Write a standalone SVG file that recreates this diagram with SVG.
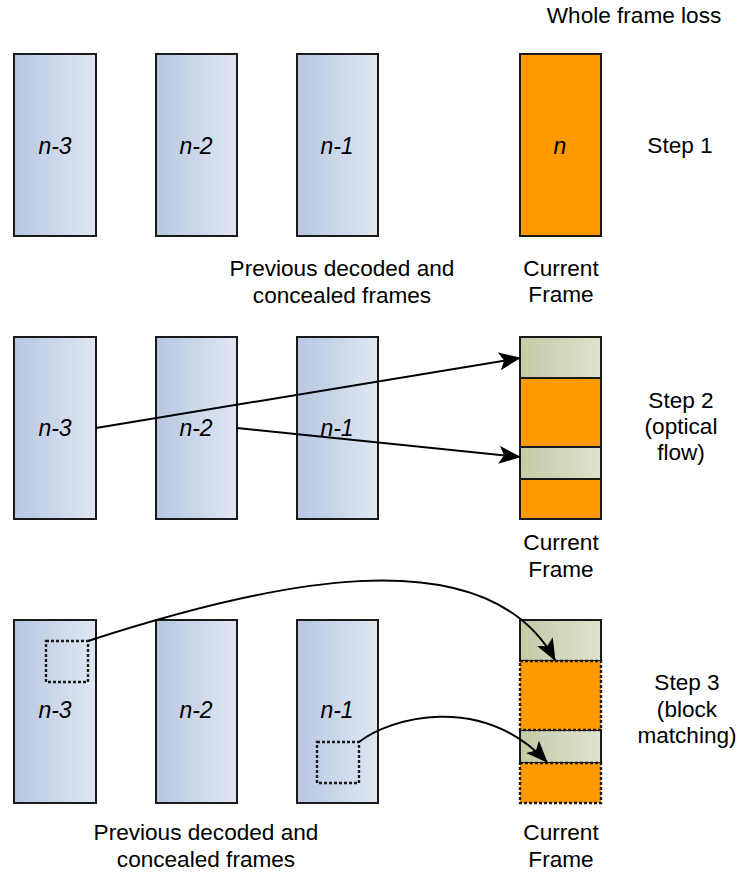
<svg xmlns="http://www.w3.org/2000/svg" width="740" height="875" viewBox="0 0 740 875">
<defs>
<linearGradient id="blue" x1="0" y1="0" x2="1" y2="0">
<stop offset="0" stop-color="#b7c7e1"/>
<stop offset="1" stop-color="#dfe7f2"/>
</linearGradient>
<linearGradient id="green" x1="0" y1="0" x2="1" y2="0">
<stop offset="0" stop-color="#c3caa8"/>
<stop offset="1" stop-color="#dee3cd"/>
</linearGradient>
<marker id="arr" markerUnits="userSpaceOnUse" markerWidth="22" markerHeight="18" refX="21" refY="9" orient="auto" viewBox="0 0 22 18">
<path d="M0,0 L22,9 L0,18 L5,9 Z" fill="#000"/>
</marker>
<style>
.fr{fill:url(#blue);stroke:#1a1a1a;stroke-width:2}
.or{fill:#ff9900;stroke:#1a1a1a;stroke-width:2}
.gr{fill:url(#green);stroke:#1a1a1a;stroke-width:2}
.ord{fill:#ff9900;stroke:#1a1a1a;stroke-width:2.4;stroke-dasharray:3 2}
.blk{fill:none;stroke:#1a1a1a;stroke-width:2.4;stroke-dasharray:3 2}
.t{font-family:"Liberation Sans",Arial,sans-serif;font-size:22.6px;fill:#000;text-anchor:middle}
.n{font-family:"Liberation Sans",Arial,sans-serif;font-size:23px;font-style:italic;fill:#000;text-anchor:middle}
.c{fill:none;stroke:#000;stroke-width:2;marker-end:url(#arr)}
</style>
</defs>
<text class="t" x="634" y="23">Whole frame loss</text>

<!-- Row 1 -->
<g id="r1-n3"><rect class="fr" x="14" y="54" width="82" height="182"/><text class="n" x="55" y="154">n-3</text></g>
<g id="r1-n2"><rect class="fr" x="156" y="54" width="81" height="182"/><text class="n" x="196" y="154">n-2</text></g>
<g id="r1-n1"><rect class="fr" x="297" y="54" width="81" height="182"/><text class="n" x="337" y="154">n-1</text></g>
<g id="r1-n"><rect class="or" x="520" y="54" width="81" height="182"/><text class="n" x="560" y="154">n</text></g>
<text class="t" x="680" y="153">Step 1</text>
<text class="t" x="342" y="276">Previous decoded and</text>
<text class="t" x="342" y="303">concealed frames</text>
<text class="t" x="561" y="276">Current</text>
<text class="t" x="561" y="302">Frame</text>

<!-- Row 2 -->
<g id="r2-n3"><rect class="fr" x="14" y="337" width="82" height="182"/><text class="n" x="55" y="436">n-3</text></g>
<g id="r2-n2"><rect class="fr" x="156" y="337" width="81" height="182"/><text class="n" x="196" y="436">n-2</text></g>
<g id="r2-n1"><rect class="fr" x="297" y="337" width="81" height="182"/><text class="n" x="337" y="436">n-1</text></g>
<g id="r2-n">
<rect class="gr" x="520" y="337" width="81" height="41"/>
<rect class="or" x="520" y="378" width="81" height="69"/>
<rect class="gr" x="520" y="447" width="81" height="32"/>
<rect class="or" x="520" y="479" width="81" height="40"/>
</g>
<text class="t" x="681" y="408">Step 2</text>
<text class="t" x="681" y="434">(optical</text>
<text class="t" x="681" y="460">flow)</text>
<text class="t" x="561" y="550">Current</text>
<text class="t" x="561" y="577">Frame</text>

<!-- Row 3 -->
<g id="r3-n3"><rect class="fr" x="14" y="620" width="82" height="183"/><text class="n" x="55" y="718">n-3</text><rect class="blk" x="46" y="641" width="42" height="41"/></g>
<g id="r3-n2"><rect class="fr" x="156" y="620" width="81" height="183"/><text class="n" x="196" y="718">n-2</text></g>
<g id="r3-n1"><rect class="fr" x="297" y="620" width="81" height="183"/><text class="n" x="337" y="718">n-1</text><rect class="blk" x="317" y="742" width="42" height="41"/></g>
<g id="r3-n">
<rect class="gr" x="520" y="620" width="81" height="41"/>
<rect class="gr" x="520" y="730" width="81" height="33"/>
<rect class="ord" x="520" y="661" width="81" height="69"/>
<rect class="ord" x="520" y="763" width="81" height="40"/>
</g>
<text class="t" x="687" y="690">Step 3</text>
<text class="t" x="687" y="717">(block</text>
<text class="t" x="687" y="743">matching)</text>
<text class="t" x="206" y="840">Previous decoded and</text>
<text class="t" x="206" y="867">concealed frames</text>
<text class="t" x="561" y="840">Current</text>
<text class="t" x="561" y="867">Frame</text>

<g id="connectors">
<path class="c" d="M96,428 L520,358"/>
<path class="c" d="M237,428 L520,457"/>
<path class="c" d="M88,641 C260,585 484,531 555,660"/>
<path class="c" d="M359,742 C390,718 480,692 547,762"/>
</g>
</svg>
